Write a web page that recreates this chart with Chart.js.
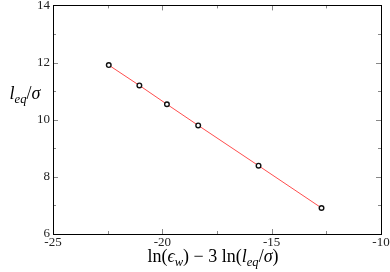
<!DOCTYPE html>
<html>
<head>
<meta charset="utf-8">
<script src="https://cdn.jsdelivr.net/npm/chart.js@4/dist/chart.umd.min.js"></script>
<style>
  body { margin: 0; background: #fff; }
  #wrap { width: 390px; height: 272px; }
</style>
</head>
<body>
<div id="wrap"><canvas id="chart" width="390" height="272"></canvas></div>
<script>
// values
var xValues = [-22.45, -21.05, -19.79, -18.36, -15.60, -12.72];
var yValues = [11.91, 11.20, 10.54, 9.80, 8.39, 6.91];
var xMajor = [-25, -20, -15, -10];
var xMinor = [-22.5, -17.5, -12.5];
var yMajor = [6, 8, 10, 12, 14];
var yMinor = [7, 9, 11, 13];

var serif = '"Liberation Serif", "DejaVu Serif", serif';

function drawRich(ctx, parts, cx, baseY, size) {
  var total = 0;
  parts.forEach(function (p) {
    var fs = p.sub ? size * 0.7 : size;
    ctx.font = (p.it ? 'italic ' : '') + fs + 'px ' + serif;
    p.w = ctx.measureText(p.t).width;
    total += p.w;
  });
  var x = cx - total / 2;
  ctx.textAlign = 'left';
  ctx.textBaseline = 'alphabetic';
  parts.forEach(function (p) {
    var fs = p.sub ? size * 0.7 : size;
    ctx.font = (p.it ? 'italic ' : '') + fs + 'px ' + serif;
    ctx.fillText(p.t, x, baseY + (p.sub ? size * 0.22 : 0));
    x += p.w;
  });
}

var framePlugin = {
  id: 'frame',
  afterDraw: function (chart) {
    var ctx = chart.ctx, a = chart.chartArea;
    var xs = chart.scales.x, ys = chart.scales.y;
    ctx.save();
    // inward ticks on all four sides
    ctx.strokeStyle = '#888';
    ctx.lineWidth = 1;
    function tx(v, len) {
      var p = Math.round(xs.getPixelForValue(v)) + 0.5;
      ctx.beginPath();
      ctx.moveTo(p, a.bottom); ctx.lineTo(p, a.bottom - len);
      ctx.moveTo(p, a.top); ctx.lineTo(p, a.top + len);
      ctx.stroke();
    }
    function ty(v, len) {
      var p = Math.round(ys.getPixelForValue(v)) + 0.5;
      ctx.beginPath();
      ctx.moveTo(a.left, p); ctx.lineTo(a.left + len, p);
      ctx.moveTo(a.right, p); ctx.lineTo(a.right - len, p);
      ctx.stroke();
    }
    xMajor.forEach(function (v) { tx(v, 5); });
    xMinor.forEach(function (v) { tx(v, 3); });
    yMajor.forEach(function (v) { ty(v, 5); });
    yMinor.forEach(function (v) { ty(v, 3); });
    // frame
    ctx.strokeStyle = '#000';
    ctx.strokeRect(Math.round(a.left) + 0.5, Math.round(a.top) + 0.5,
                   Math.round(a.right - a.left), Math.round(a.bottom - a.top));
    // axis titles
    ctx.fillStyle = '#000';
    drawRich(ctx, [
      { t: 'ln(', it: false },
      { t: 'ϵ', it: true },
      { t: 'w', it: true, sub: true },
      { t: ') \u2212 3 ln(', it: false },
      { t: 'l', it: true },
      { t: 'eq', it: true, sub: true },
      { t: '/', it: false },
      { t: 'σ', it: true },
      { t: ')', it: false }
    ], 213, 262, 18);
    drawRich(ctx, [
      { t: 'l', it: true },
      { t: 'eq', it: true, sub: true },
      { t: '/', it: false },
      { t: 'σ', it: true }
    ], 25, 99, 18);
    ctx.restore();
  }
};

new Chart(document.getElementById('chart'), {
  type: 'scatter',
  data: {
    datasets: [{
      data: xValues.map(function (x, i) { return { x: x, y: yValues[i] }; }),
      showLine: true,
      borderColor: '#ff4d4d',
      borderWidth: 1,
      pointRadius: 2.3,
      pointBorderWidth: 1.4,
      pointBorderColor: '#111',
      pointBackgroundColor: '#fff'
    }]
  },
  options: {
    responsive: false,
    devicePixelRatio: 1,
    animation: false,
    layout: { padding: { left: 33, top: 5, right: 9, bottom: 22 } },
    plugins: { legend: { display: false }, tooltip: { enabled: false } },
    scales: {
      x: {
        type: 'linear', min: -25, max: -10,
        grid: { display: false, drawTicks: false }, border: { display: false },
        afterFit: function (s) { s.height = 16; s.paddingLeft = 0; s.paddingRight = 0; },
        ticks: { stepSize: 5, padding: 1, color: '#222', font: { family: serif, size: 13 } }
      },
      y: {
        type: 'linear', min: 6, max: 14,
        grid: { display: false, drawTicks: false }, border: { display: false },
        afterFit: function (s) { s.width = 20; s.paddingTop = 0; s.paddingBottom = 0; },
        ticks: { stepSize: 2, padding: 3, color: '#222', font: { family: serif, size: 13 } }
      }
    }
  },
  plugins: [framePlugin]
});
</script>
</body>
</html>
